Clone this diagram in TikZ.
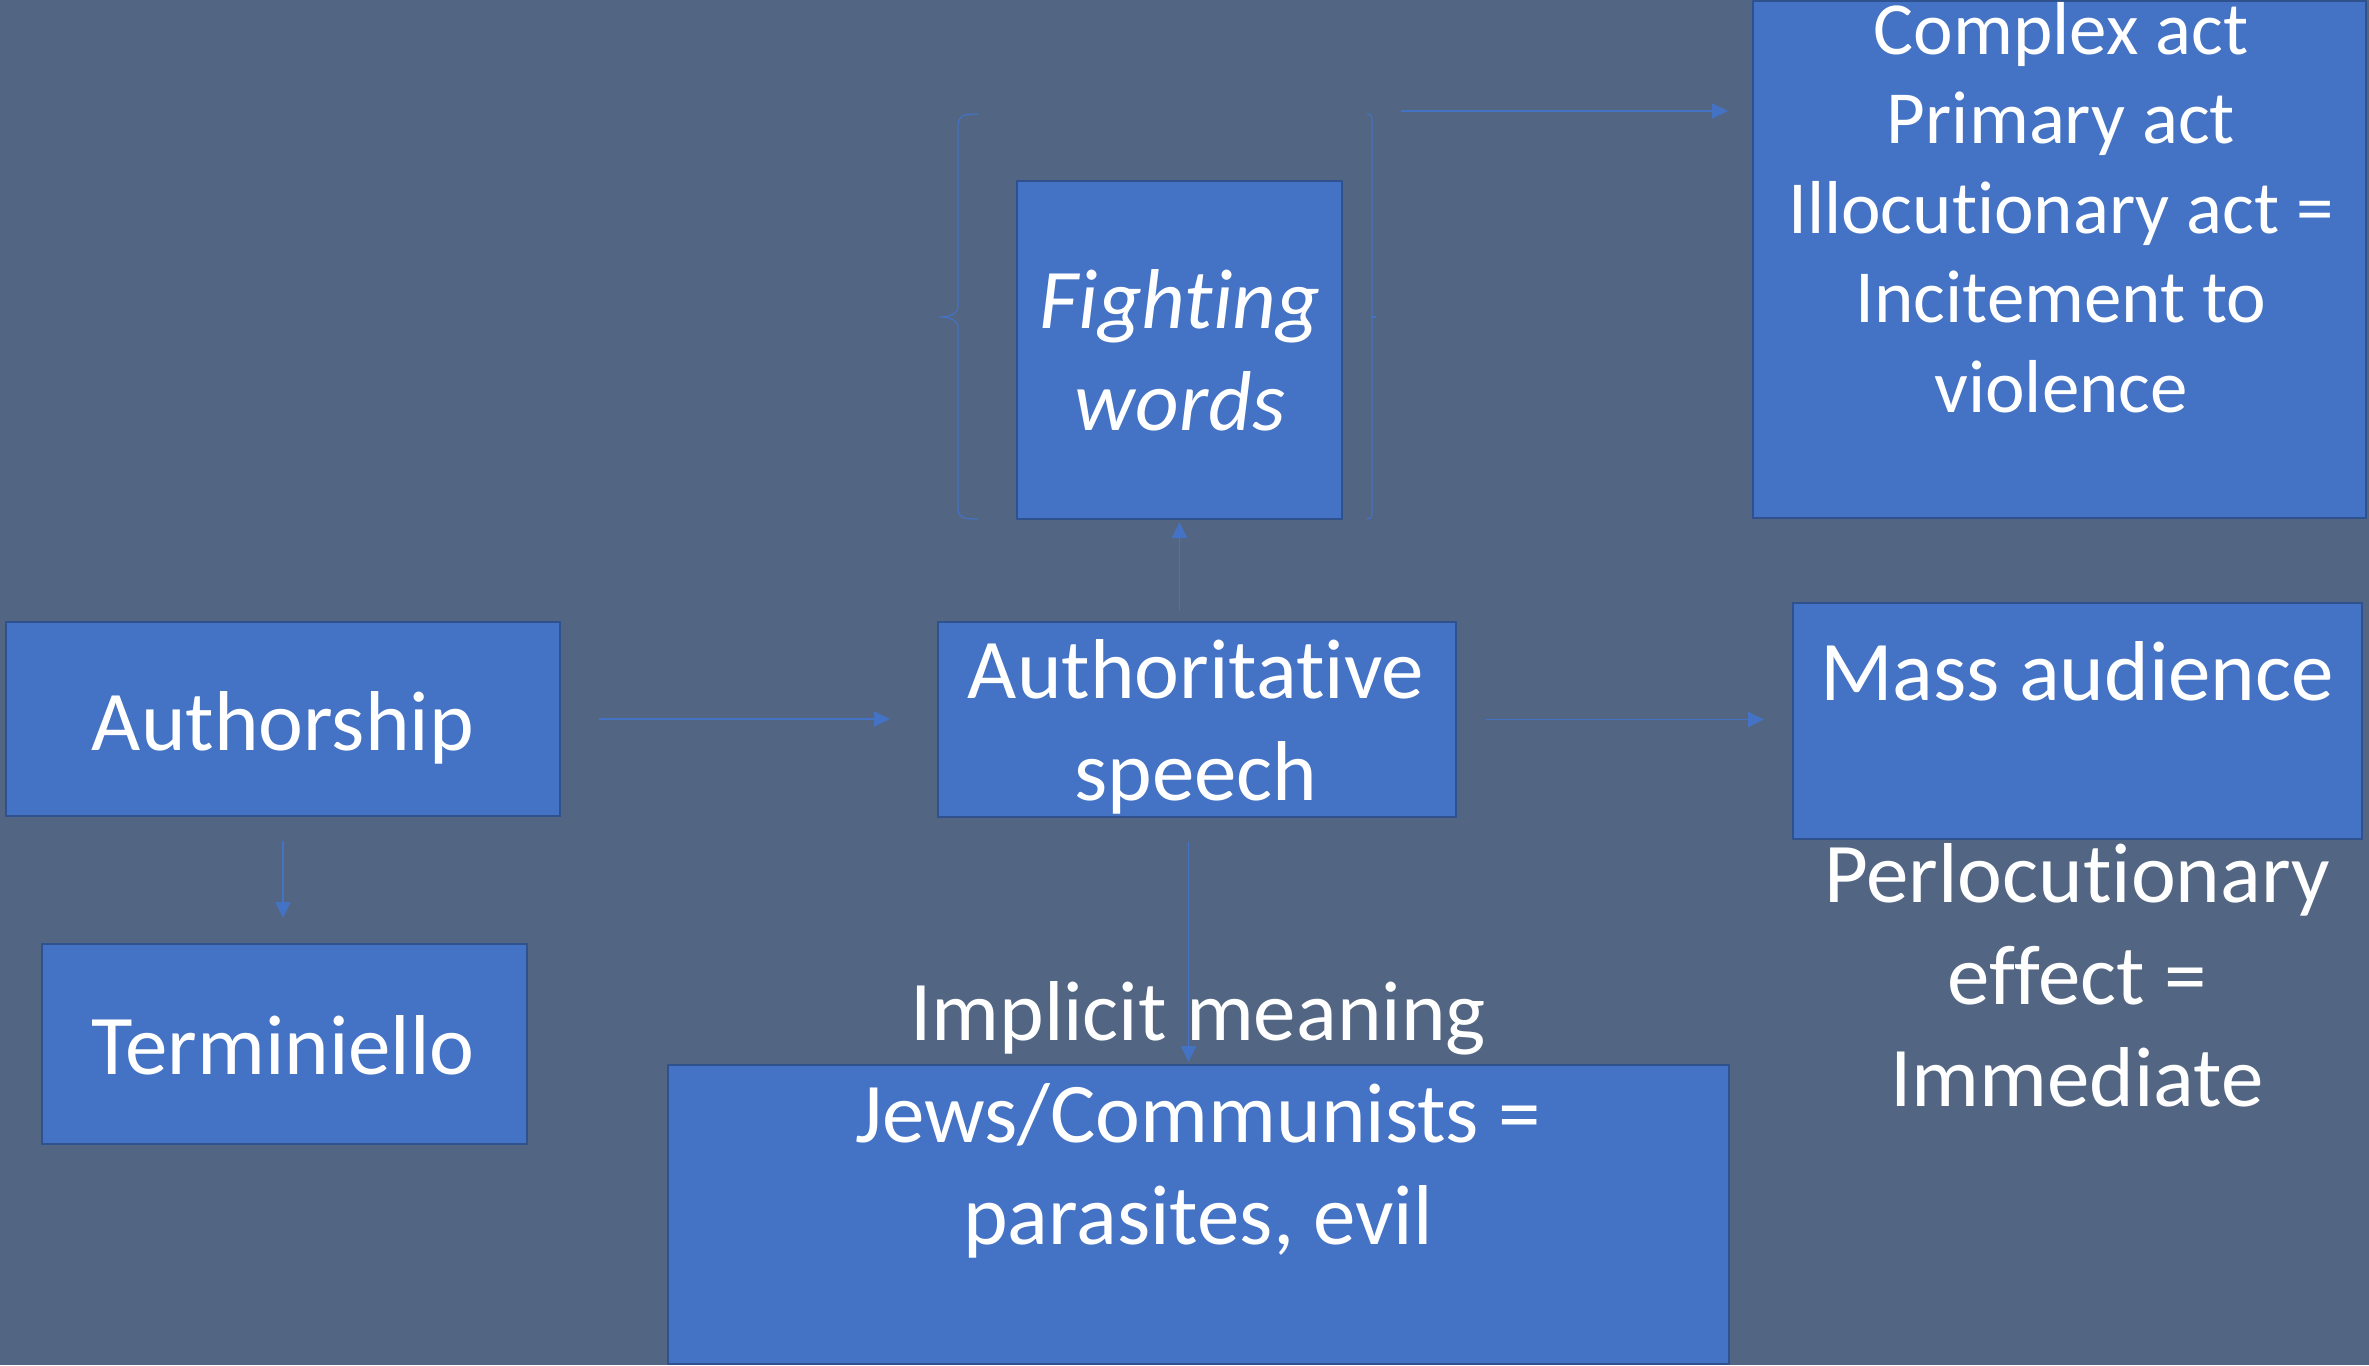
\documentclass[tikz,border=0pt]{standalone}
\usepackage{fontspec}
\setmainfont{Carlito}[Ligatures=NoCommon]
\usetikzlibrary{arrows.meta}

\definecolor{slate}{RGB}{82,101,130}
\definecolor{boxfill}{HTML}{4472C4}
\definecolor{boxline}{HTML}{2F528F}

\tikzset{
  box/.style={draw=boxline, fill=boxfill, line width=1pt, inner sep=0pt},
  % multi-line texts are placed by the baseline of their last line
  txt/.style={text=white, inner sep=0pt, align=center, anchor=base,
    font=\fontsize{42.5}{51}\selectfont},
  smalltxt/.style={txt, font=\fontsize{37.5}{44.75}\selectfont},
  arr/.style={draw=boxfill, line width=0.85pt,
    -{Triangle[length=8pt,width=7.5pt]}},
  brace/.style={draw=boxfill, line width=0.6pt}
}

\begin{document}
\begin{tikzpicture}[x=0.5pt, y=-0.5pt]
  % canvas
  \fill[slate] (0,0) rectangle (2369,1365);
  \useasboundingbox (0,0) rectangle (2369,1365);

  % boxes
  \node[box, minimum width=277pt,   minimum height=97pt]    (auth)  at (283,719)     {};
  \node[box, minimum width=242.5pt, minimum height=100pt]   (term)  at (284.5,1044)  {};
  \node[box, minimum width=259pt,   minimum height=97.5pt]  (spch)  at (1197,719.5)  {};
  \node[box, minimum width=162.5pt, minimum height=169pt]   (fight) at (1179.5,350)  {};
  \node[box, minimum width=306.5pt, minimum height=258.5pt] (cmplx) at (2059.5,259.5) {};
  \node[box, minimum width=284.5pt, minimum height=118pt]   (mass)  at (2077.5,721)  {};
  \node[box, minimum width=530.5pt, minimum height=149.5pt] (impl)  at (1198.5,1214.5) {};

  % texts
  \node[txt] (authT)  at (283,750)  {Authorship};
  \node[txt] (termT)  at (283,1074) {Terminiello};
  \node[txt] (spchT)  at (1196,800) {Authoritative\\speech};
  \node[txt, font=\fontsize{42.5}{51}\selectfont\itshape] (fightT) at (1180,430) {Fighting\\words};
  \node[smalltxt] (cmplxT) at (2061,412) {Complex act\\Primary act\\Illocutionary act =\\Incitement to\\violence};
  \node[txt] (massT)  at (2077,700) {Mass audience};
  \node[txt] (perlT)  at (2077,1106) {Perlocutionary\\effect =\\Immediate};
  \node[txt] (implT)  at (1198,1244) {Implicit meaning\\Jews/Communists =\\parasites, evil};

  % bracket pair around the fighting-words box
  \path (978,114) coordinate (bl1) (978,519) coordinate (bl2)
        (1367,114) coordinate (br1) (1367,519) coordinate (br2);
  \draw[brace] (bl1) .. controls (962,114) and (958,116) .. (958,126)
     -- (958,306) .. controls (958,314) and (950,317) .. (939,317)
     .. controls (950,317) and (958,320) .. (958,328)
     -- (958,508) .. controls (958,517) and (962,519) .. (bl2);
  \draw[brace] (br1) .. controls (1370,114) and (1372,115) .. (1372,118)
     -- (1372,515) .. controls (1372,518) and (1370,519) .. (br2);
  \draw[brace] (1372,317) -- (1376,317);
  \coordinate (capstart) at (1401,111);

  % connectors
  \draw[arr, shorten <=19pt, shorten >=23.5pt] (auth.east) -- (auth.east -| spch.west);
  \draw[arr, shorten <=14.5pt, shorten >=14pt] (spch.east) -- (spch.east -| mass.west);
  \draw[arr, shorten <=5pt, shorten >=1pt] (fight.south |- spch.north) -- (fight.south);
  \draw[arr, shorten <=12pt, shorten >=12.5pt] (auth.south) -- (auth.south |- term.north);
  \draw[arr, shorten <=12pt, shorten >=1pt] ([xshift=-4.25pt]spch.south) -- ([xshift=-4.25pt]spch.south |- impl.north);
  \draw[arr, shorten >=12pt] (capstart) -- (capstart -| cmplx.west);
\end{tikzpicture}
\end{document}
